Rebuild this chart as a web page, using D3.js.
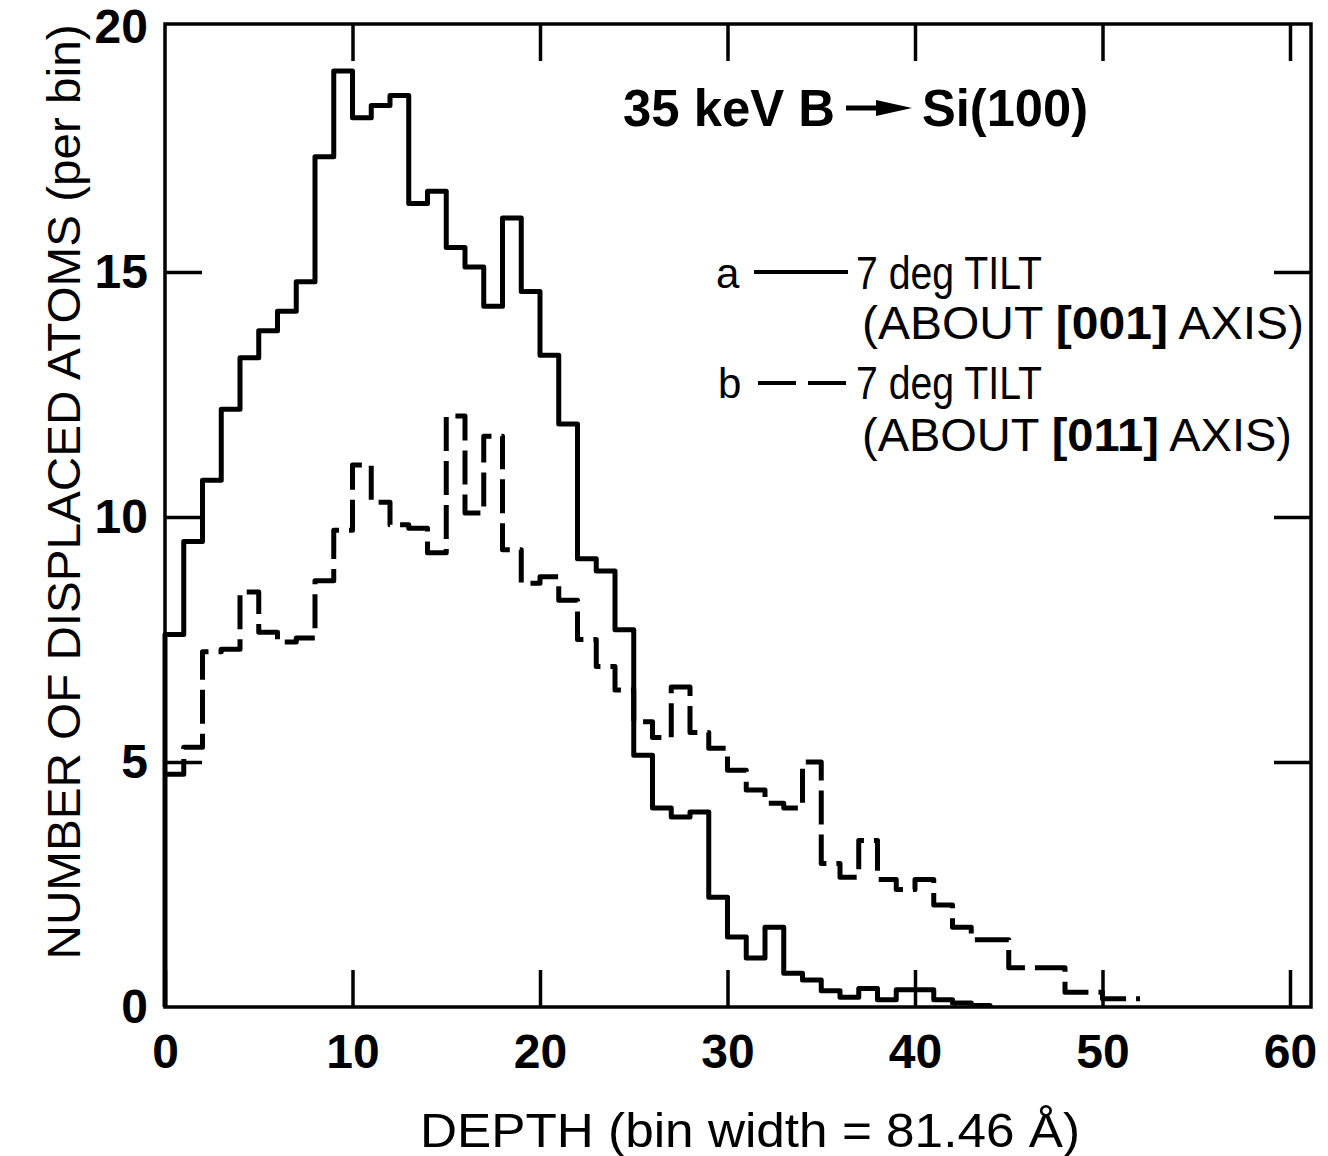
<!DOCTYPE html>
<html>
<head>
<meta charset="utf-8">
<script src="https://cdn.jsdelivr.net/npm/d3@7"></script>
<style>
  html, body { margin: 0; padding: 0; background: #fff; }
  svg { display: block; }
  text { font-family: "Liberation Sans", Arial, sans-serif; fill: #000; }
</style>
</head>
<body>
<svg id="chart" width="1328" height="1156"></svg>
<script>
// ---- data (per-bin counts, bin width = 1 depth unit) ----
const seriesA = [7.6, 9.5, 10.75, 12.2, 13.25, 13.8, 14.2, 14.8, 17.35, 19.1,
  18.15, 18.4, 18.6, 16.4, 16.65, 15.5, 15.1, 14.3, 16.1, 14.6,
  13.3, 11.9, 9.15, 8.9, 7.7, 5.14, 4.06, 3.88, 3.98, 2.24,
  1.43, 1.0, 1.63, 0.69, 0.55, 0.33, 0.2, 0.38, 0.15, 0.35,
  0.35, 0.15, 0.08, 0.03];
const seriesB = [4.75, 5.3, 7.25, 7.3, 8.47, 7.65, 7.45, 7.53, 8.7, 9.73,
  11.06, 10.3, 9.84, 9.77, 9.27, 12.06, 10.08, 11.65, 9.33, 8.65,
  8.78, 8.3, 7.5, 6.95, 6.47, 5.82, 5.5, 6.53, 5.6, 5.28,
  4.83, 4.43, 4.16, 4.06, 5.0, 2.93, 2.65, 3.4, 2.6, 2.4,
  2.6, 2.08, 1.63, 1.37, 1.37, 0.8, 0.8, 0.8, 0.3, 0.3,
  0.17, 0.17];
const xTicks = [0, 10, 20, 30, 40, 50, 60];
const yTicks = [0, 5, 10, 15, 20];
const xTitle = "DEPTH (bin width = 81.46 \u00C5)";
const yTitle = "NUMBER OF DISPLACED ATOMS (per bin)";

const svg = d3.select("#chart");
const x = d3.scaleLinear().domain([0, 60]).range([165, 1290]);
const y = d3.scaleLinear().domain([0, 20]).range([1007, 27]);
const frame = {left: 165, right: 1311, top: 24, bottom: 1007};
const TICK = 37;

// frame
svg.append("rect")
  .attr("x", frame.left).attr("y", frame.top)
  .attr("width", frame.right - frame.left).attr("height", frame.bottom - frame.top)
  .attr("fill", "none").attr("stroke", "#000").attr("stroke-width", 3.5);

function styleAxis(g, showLabels) {
  g.select(".domain").remove();
  g.selectAll(".tick line").attr("stroke", "#000").attr("stroke-width", 3.5);
  if (!showLabels) g.selectAll(".tick text").remove();
}

// bottom axis
const gB = svg.append("g").attr("transform", `translate(0,${frame.bottom})`)
  .call(d3.axisBottom(x).tickValues(xTicks).tickSize(-TICK).tickPadding(20).tickFormat(d3.format("d")));
styleAxis(gB, true);
gB.selectAll(".tick text").attr("font-size", 48).attr("font-weight", "bold").attr("dy", "0.85em");
// top axis (ticks only)
const gT = svg.append("g").attr("transform", `translate(0,${frame.top})`)
  .call(d3.axisTop(x).tickValues(xTicks.filter(d => d > 0)).tickSize(-TICK));
styleAxis(gT, false);
// left axis
const gL = svg.append("g").attr("transform", `translate(${frame.left},0)`)
  .call(d3.axisLeft(y).tickValues(yTicks).tickSize(-TICK).tickPadding(17).tickFormat(d3.format("d")));
styleAxis(gL, true);
gL.selectAll(".tick line").filter(d => d === 0 || d === 20).remove();
gL.selectAll(".tick text").attr("font-size", 48).attr("font-weight", "bold");
// right axis (ticks only)
const gR = svg.append("g").attr("transform", `translate(${frame.right},0)`)
  .call(d3.axisRight(y).tickValues(yTicks.filter(d => d > 0 && d < 20)).tickSize(-TICK));
styleAxis(gR, false);

// histograms as step lines
function stepPoints(vals) {
  const pts = vals.map((v, i) => [i, v]);
  pts.push([vals.length, vals[vals.length - 1]]);
  return pts;
}
const line = d3.line().x(d => x(d[0])).y(d => y(d[1])).curve(d3.curveStepAfter);

const ptsA = [[0, 0]].concat(stepPoints(seriesA)).concat([[seriesA.length, 0]]);
svg.append("path").attr("d", line(ptsA))
  .attr("fill", "none").attr("stroke", "#000").attr("stroke-width", 5)
  .attr("stroke-linejoin", "round");

svg.append("path").attr("d", line(stepPoints(seriesB)))
  .attr("fill", "none").attr("stroke", "#000").attr("stroke-width", 5)
  .attr("stroke-dasharray", "34,10").attr("stroke-linejoin", "round");

// axis titles
svg.append("text")
  .attr("x", 750).attr("y", 1147).attr("text-anchor", "middle")
  .attr("font-size", 48).attr("textLength", 660).attr("lengthAdjust", "spacingAndGlyphs")
  .text(xTitle);
svg.append("text")
  .attr("transform", "translate(80,492) rotate(-90)").attr("text-anchor", "middle")
  .attr("font-size", 46).attr("textLength", 935).attr("lengthAdjust", "spacingAndGlyphs")
  .text(yTitle);

// title: 35 keV B -> Si(100)
svg.append("text").attr("x", 623).attr("y", 126).attr("font-size", 52).attr("font-weight", "bold")
  .attr("textLength", 212).attr("lengthAdjust", "spacingAndGlyphs").text("35 keV  B");
svg.append("line").attr("x1", 846).attr("x2", 882).attr("y1", 108).attr("y2", 108)
  .attr("stroke", "#000").attr("stroke-width", 5);
svg.append("path").attr("d", "M876,100 L912,108 L876,116 Z").attr("fill", "#000");
svg.append("text").attr("x", 922).attr("y", 126).attr("font-size", 52).attr("font-weight", "bold")
  .attr("textLength", 166).attr("lengthAdjust", "spacingAndGlyphs").text("Si(100)");

// legend
const lg = svg.append("g");
lg.append("text").attr("x", 716).attr("y", 288).attr("font-size", 42).text("a");
lg.append("line").attr("x1", 754).attr("x2", 848).attr("y1", 272).attr("y2", 272)
  .attr("stroke", "#000").attr("stroke-width", 4);
lg.append("text").attr("x", 856).attr("y", 289).attr("font-size", 47)
  .attr("textLength", 186).attr("lengthAdjust", "spacingAndGlyphs").text("7  deg TILT");
const t2 = lg.append("text").attr("x", 862).attr("y", 339).attr("font-size", 47)
  .attr("textLength", 442).attr("lengthAdjust", "spacingAndGlyphs");
t2.append("tspan").text("(ABOUT ");
t2.append("tspan").attr("font-weight", "bold").text("[001]");
t2.append("tspan").text(" AXIS)");

lg.append("text").attr("x", 718).attr("y", 398).attr("font-size", 42).text("b");
lg.append("line").attr("x1", 758).attr("x2", 846).attr("y1", 383).attr("y2", 383)
  .attr("stroke", "#000").attr("stroke-width", 4).attr("stroke-dasharray", "38,12");
lg.append("text").attr("x", 856).attr("y", 399).attr("font-size", 47)
  .attr("textLength", 186).attr("lengthAdjust", "spacingAndGlyphs").text("7  deg TILT");
const t4 = lg.append("text").attr("x", 862).attr("y", 451).attr("font-size", 47)
  .attr("textLength", 430).attr("lengthAdjust", "spacingAndGlyphs");
t4.append("tspan").text("(ABOUT ");
t4.append("tspan").attr("font-weight", "bold").text("[011]");
t4.append("tspan").text(" AXIS)");
</script>
</body>
</html>
